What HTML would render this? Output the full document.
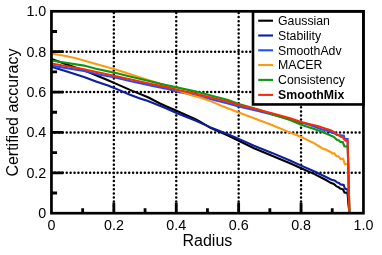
<!DOCTYPE html>
<html><head><meta charset="utf-8"><title>Certified accuracy</title>
<style>html,body{margin:0;padding:0;background:#fff}svg{display:block;will-change:transform}text{font-family:"Liberation Sans",Arial,Helvetica,sans-serif;fill:#000}</style></head><body>
<svg width="382" height="255" viewBox="0 0 382 255">
<rect width="382" height="255" fill="#fff"/>
<path d="M51.45 172.82 H363.45 M51.45 132.44 H363.45 M51.45 92.06 H363.45 M51.45 51.68 H363.45" fill="none" stroke="#000" stroke-width="2.5" stroke-linecap="round" stroke-dasharray="0.01 3.8946" stroke-dashoffset="-3.56"/>
<path d="M113.85 213.2 V11.3 M176.25 213.2 V11.3 M238.65 213.2 V11.3 M301.05 213.2 V11.3" fill="none" stroke="#000" stroke-width="2.5" stroke-linecap="round" stroke-dasharray="0.01 4.09" stroke-dashoffset="-3.4"/>
<clipPath id="c"><rect x="51.45" y="11.3" width="312.0" height="201.89999999999998"/></clipPath>
<g clip-path="url(#c)" fill="none" stroke-width="2.1" stroke-linejoin="miter">
<path d="M51.7 59.1 L52.9 59.5 L69.7 65.5 L84.0 70.4 L96.0 75.3 L108.0 80.3 L114.0 82.9 L130.0 89.9 L136.1 92.4 L148.0 97.3 L160.0 103.5 L166.0 106.2 L176.5 110.8 L196.0 119.5 L200.0 121.6 L210.0 127.6 L228.0 135.5 L238.8 140.7 L254.0 148.2 L272.0 155.7 L290.0 163.3 L301.2 168.3 L314.0 173.9 L326.0 180.0 L330.7 182.8 L333.9 183.9 L336.6 186.4 L338.6 187.2 L340.1 188.6 L342.9 189.3 L344.5 192.5 L347.5 193.0 L349.4 212.9" stroke="#000000"/>
<path d="M51.7 66.9 L52.9 67.3 L66.9 71.6 L84.0 77.0 L96.0 81.4 L108.0 85.6 L114.0 87.9 L130.0 94.8 L140.0 98.4 L148.0 101.1 L166.0 108.3 L176.5 113.0 L196.0 120.8 L210.0 127.1 L228.0 134.3 L238.8 138.9 L254.0 145.8 L272.0 152.9 L290.0 160.5 L301.2 165.6 L314.0 171.2 L326.0 177.0 L331.5 179.7 L334.6 180.4 L337.0 182.4 L339.0 183.0 L340.5 184.4 L343.7 185.0 L344.9 188.7 L347.5 189.4 L349.4 212.9" stroke="#0c1ea2"/>
<path d="M51.7 65.7 L52.9 65.9 L84.0 71.0 L100.0 74.7 L114.0 77.3 L131.0 81.3 L148.0 84.9 L166.0 88.6 L176.5 91.4 L196.0 95.5 L210.0 98.9 L228.0 103.5 L238.8 106.4 L258.0 111.0 L272.0 114.5 L290.0 119.3 L310.0 125.0 L322.0 129.6 L328.0 131.0 L334.0 133.2 L337.0 135.0 L340.8 135.3 L343.8 135.6 L344.6 138.7 L347.6 138.9 L347.6 140.8 L349.4 212.9" stroke="#1f50ff"/>
<path d="M51.7 53.6 L52.9 53.8 L66.9 56.3 L75.0 57.9 L84.0 60.5 L96.0 63.9 L114.0 69.1 L132.0 74.7 L148.0 80.0 L160.0 83.6 L192.0 95.6 L200.0 97.6 L210.0 100.9 L222.0 106.0 L238.8 112.4 L254.0 118.3 L272.0 125.0 L286.0 130.9 L301.2 137.0 L313.5 142.9 L320.1 147.0 L322.0 148.2 L326.7 150.0 L330.6 152.0 L332.2 153.4 L334.2 153.4 L336.5 156.2 L338.5 156.2 L340.5 158.9 L343.2 158.9 L344.8 164.1 L348.2 164.2 L349.4 212.9" stroke="#ff9a10"/>
<path d="M51.7 60.5 L52.9 60.7 L84.0 65.6 L96.0 68.7 L114.0 72.6 L130.0 76.6 L148.0 80.8 L160.0 83.8 L176.5 87.4 L196.0 91.6 L210.0 95.3 L228.0 99.9 L238.8 104.1 L260.0 109.9 L272.0 114.2 L290.0 120.1 L301.2 124.7 L313.5 128.7 L322.0 131.8 L326.7 133.8 L330.6 135.5 L333.8 136.8 L336.5 139.5 L338.9 140.4 L340.5 141.9 L342.8 142.3 L344.4 146.2 L347.8 146.7 L349.4 212.9" stroke="#0f980f"/>
<path d="M51.7 63.6 L52.9 63.8 L84.0 69.2 L100.0 72.8 L114.0 75.7 L131.0 79.6 L148.0 83.3 L166.0 87.1 L176.5 89.8 L196.0 93.8 L210.0 97.2 L228.0 101.7 L238.8 104.9 L250.0 107.6 L258.0 109.7 L272.0 113.3 L290.0 118.2 L301.2 122.0 L310.0 124.2 L318.5 126.3 L322.0 127.6 L326.7 128.9 L330.6 130.2 L333.8 131.8 L336.5 134.1 L338.9 135.3 L340.9 136.8 L342.8 137.3 L344.4 139.6 L345.6 140.8 L347.6 140.8 L349.4 212.9" stroke="#fa2a08"/>
</g>
<path d="M82.65 213.2 v-5.0 M51.45 193.01 h5.6 M113.85 213.2 v-10.6 M51.45 172.82 h11.8 M145.05 213.2 v-5.0 M51.45 152.63 h5.6 M176.25 213.2 v-10.6 M51.45 132.44 h11.8 M207.45 213.2 v-5.0 M51.45 112.25 h5.6 M238.65 213.2 v-10.6 M51.45 92.06 h11.8 M269.85 213.2 v-5.0 M51.45 71.87 h5.6 M301.05 213.2 v-10.6 M51.45 51.68 h11.8 M332.25 213.2 v-5.0 M51.45 31.49 h5.6" fill="none" stroke="#000" stroke-width="2.8"/>
<rect x="253.0" y="11.3" width="110.44999999999999" height="93.15" fill="#fff" stroke="#000" stroke-width="2.6"/>
<path d="M258.2 20.7 H273" stroke="#000000" stroke-width="2.1" fill="none"/>
<text x="278" y="24.9" font-size="12.3">Gaussian</text>
<path d="M258.2 35.5 H273" stroke="#0c1ea2" stroke-width="2.1" fill="none"/>
<text x="278" y="39.7" font-size="12.3">Stability</text>
<path d="M258.2 50.3 H273" stroke="#1f50ff" stroke-width="2.1" fill="none"/>
<text x="278" y="54.5" font-size="12.3">SmoothAdv</text>
<path d="M258.2 65.0 H273" stroke="#ff9a10" stroke-width="2.1" fill="none"/>
<text x="278" y="69.2" font-size="12.3">MACER</text>
<path d="M258.2 79.9 H273" stroke="#0f980f" stroke-width="2.1" fill="none"/>
<text x="278" y="84.1" font-size="12.3">Consistency</text>
<path d="M258.2 94.9 H273" stroke="#fa2a08" stroke-width="2.1" fill="none"/>
<text x="278" y="99.1" font-size="12.3" font-weight="bold">SmoothMix</text>
<rect x="51.45" y="11.3" width="312.0" height="201.89999999999998" fill="none" stroke="#000" stroke-width="2.7"/>
<text x="46.3" y="218.2" font-size="14.3" text-anchor="end">0</text>
<text x="51.5" y="229.5" font-size="14.3" text-anchor="middle">0</text>
<text x="46.3" y="177.8" font-size="14.3" text-anchor="end">0.2</text>
<text x="113.9" y="229.5" font-size="14.3" text-anchor="middle">0.2</text>
<text x="46.3" y="137.4" font-size="14.3" text-anchor="end">0.4</text>
<text x="176.2" y="229.5" font-size="14.3" text-anchor="middle">0.4</text>
<text x="46.3" y="97.1" font-size="14.3" text-anchor="end">0.6</text>
<text x="238.7" y="229.5" font-size="14.3" text-anchor="middle">0.6</text>
<text x="46.3" y="56.7" font-size="14.3" text-anchor="end">0.8</text>
<text x="301.1" y="229.5" font-size="14.3" text-anchor="middle">0.8</text>
<text x="46.3" y="16.3" font-size="14.3" text-anchor="end">1.0</text>
<text x="363.4" y="229.5" font-size="14.3" text-anchor="middle">1.0</text>
<text x="207.4" y="245.6" font-size="16" text-anchor="middle">Radius</text>
<text transform="translate(18.2 112.6) rotate(-90)" font-size="16" text-anchor="middle">Certified accuracy</text>
</svg></body></html>
